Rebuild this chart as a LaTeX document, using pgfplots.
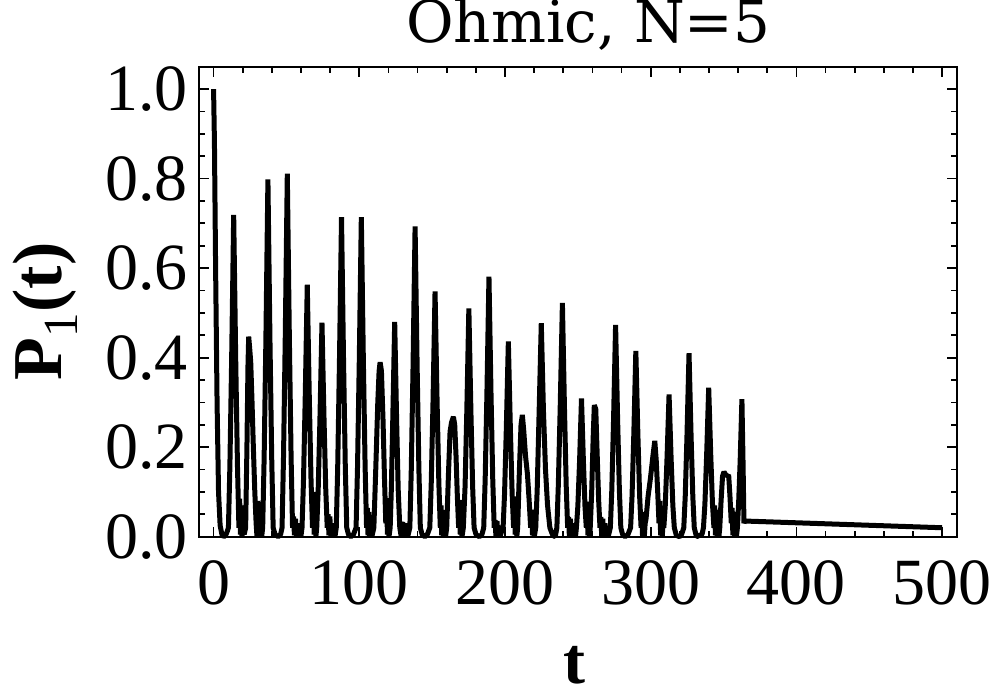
\documentclass[border=0pt]{standalone}
\usepackage{pgfplots}
\pgfplotsset{compat=1.18}
\usepackage{fontspec}
\setmainfont{Liberation Serif}
\newfontfamily\titlefont{DejaVu Serif}
\pgfplotstableread{
t P
0 1.0
0.6 0.88
1.4 0.6
2.4 0.3
3.4 0.1
4.5 0.025
5.8 0.004
7.0 0.0
8.4 0.004
9.4 0.012
10.2 0.02
11.2 0.158
12.4 0.395
13.8 0.719
15.2 0.395
16.4 0.158
17.4 0.02
17.9 0.085
18.4 0.005
18.9 0.07
19.5 0.0
20.2 0.04
21.0 0.005
22.0 0.02
22.9 0.2
23.6 0.38
24.1 0.447
24.8 0.42
25.5 0.39
26.4 0.3
27.3 0.2
28.3 0.1
29.2 0.03
29.8 0.0
30.3 0.08
30.8 0.005
31.3 0.075
31.9 0.0
32.5 0.03
33.0 0.0
33.7 0.02
34.7 0.176
35.9 0.439
37.3 0.798
38.7 0.439
39.9 0.176
40.9 0.02
42.2 0.005
44.3 0.0
46.0 0.005
47.0 0.02
48.0 0.178
49.2 0.446
50.6 0.811
52.0 0.446
53.2 0.178
54.2 0.02
54.9 0.045
55.5 0.003
56.2 0.04
56.9 0.0
57.7 0.03
58.5 0.0
59.3 0.02
59.9 0.0
60.7 0.02
61.7 0.124
62.9 0.31
64.3 0.563
65.7 0.31
66.9 0.124
67.9 0.02
68.5 0.1
69.0 0.005
69.6 0.08
70.2 0.0
70.8 0.02
71.8 0.105
73.0 0.263
74.4 0.478
75.8 0.263
77.0 0.105
78.0 0.02
78.6 0.05
79.2 0.003
79.8 0.045
80.5 0.0
81.2 0.03
81.9 0.0
82.6 0.015
83.3 0.0
84.2 0.02
85.2 0.157
86.4 0.393
87.8 0.714
89.2 0.393
90.4 0.157
91.4 0.02
92.6 0.005
94.2 0.0
96.0 0.005
97.8 0.02
98.8 0.157
100.0 0.393
101.4 0.714
102.8 0.393
104.0 0.157
105.0 0.02
105.5 0.064
106.0 0.003
106.6 0.055
107.2 0.0
107.9 0.03
108.6 0.0
109.3 0.01
110.0 0.02
111.3 0.15
112.7 0.3
113.6 0.37
114.3 0.39
115.2 0.37
116.3 0.26
117.3 0.13
118.2 0.03
118.8 0.086
119.3 0.005
119.8 0.07
120.4 0.0
121.2 0.02
122.0 0.106
123.0 0.264
124.3 0.48
125.6 0.264
126.7 0.106
127.8 0.02
128.8 0.0
129.8 0.033
130.4 0.0
131.1 0.03
131.8 0.0
132.5 0.025
133.2 0.0
134.7 0.02
135.7 0.152
136.9 0.381
138.3 0.693
139.7 0.381
140.9 0.152
141.9 0.02
143.1 0.005
145.0 0.0
146.7 0.005
148.4 0.02
149.4 0.121
150.6 0.301
152.0 0.548
153.4 0.301
154.6 0.121
155.6 0.02
156.1 0.07
156.6 0.003
157.2 0.06
157.8 0.0
158.5 0.04
159.2 0.0
160.0 0.02
161.2 0.14
162.3 0.235
163.3 0.255
164.6 0.268
165.5 0.25
166.4 0.18
167.3 0.09
168.2 0.02
168.8 0.082
169.3 0.005
169.9 0.07
170.5 0.0
171.4 0.02
172.6 0.112
173.8 0.281
175.2 0.51
176.6 0.281
177.8 0.112
178.8 0.02
180.1 0.005
182.4 0.0
184.2 0.005
185.4 0.02
186.4 0.128
187.6 0.32
189.0 0.581
190.4 0.32
191.6 0.128
192.6 0.02
193.2 0.037
193.8 0.0
194.5 0.035
195.2 0.0
195.9 0.025
196.6 0.0
197.5 0.01
198.7 0.02
199.7 0.096
200.9 0.24
202.3 0.436
203.7 0.24
204.9 0.096
205.9 0.02
206.5 0.09
207.0 0.005
207.5 0.07
208.1 0.0
208.7 0.02
209.9 0.15
211.0 0.25
211.9 0.272
212.8 0.24
214.1 0.18
215.4 0.14
216.6 0.08
217.6 0.02
218.3 0.06
218.9 0.003
219.5 0.05
220.1 0.0
221.1 0.02
222.1 0.105
223.3 0.262
224.9 0.477
226.4 0.28
227.8 0.15
229.2 0.07
230.8 0.02
232.8 0.003
234.5 0.0
235.6 0.02
236.6 0.115
237.9 0.29
239.4 0.522
240.8 0.29
242.0 0.115
243.0 0.02
243.6 0.044
244.2 0.0
244.9 0.04
245.6 0.0
246.3 0.03
247.0 0.0
247.8 0.015
248.4 0.0
249.0 0.02
250.0 0.068
251.2 0.17
252.5 0.309
253.8 0.17
254.9 0.068
255.8 0.02
256.4 0.078
256.9 0.003
257.4 0.06
258.0 0.0
258.5 0.02
259.5 0.1
260.5 0.22
261.3 0.294
262.3 0.285
263.3 0.18
264.3 0.08
265.2 0.02
265.8 0.044
266.4 0.0
267.1 0.04
267.8 0.0
268.5 0.03
269.2 0.0
270.0 0.015
270.8 0.0
272.3 0.02
273.3 0.104
274.5 0.26
275.9 0.473
277.3 0.26
278.5 0.104
279.5 0.02
280.7 0.005
282.4 0.0
284.4 0.005
286.2 0.02
287.2 0.091
288.4 0.228
289.8 0.415
291.2 0.228
292.4 0.091
293.4 0.02
293.9 0.055
294.4 0.0
295.0 0.05
295.6 0.0
296.2 0.03
296.8 0.04
298.2 0.09
299.8 0.13
301.5 0.18
302.8 0.214
303.8 0.17
304.8 0.1
305.7 0.03
306.3 0.08
306.8 0.003
307.3 0.065
307.9 0.0
308.5 0.03
309.0 0.02
310.0 0.07
311.2 0.175
312.6 0.318
314.0 0.175
315.2 0.07
316.2 0.02
317.6 0.003
319.8 0.0
321.2 0.005
322.7 0.02
323.7 0.09
324.9 0.226
326.3 0.41
327.7 0.226
328.9 0.09
329.9 0.02
331.4 0.0
333.5 0.003
335.2 0.005
336.2 0.02
337.2 0.073
338.4 0.183
339.8 0.333
341.2 0.183
342.4 0.073
343.4 0.02
343.9 0.07
344.4 0.003
345.0 0.06
345.6 0.0
346.2 0.04
346.8 0.0
347.4 0.02
348.3 0.08
349.3 0.135
350.3 0.145
351.5 0.138
352.7 0.136
353.5 0.138
354.4 0.09
355.3 0.03
355.9 0.064
356.4 0.003
357.0 0.055
357.6 0.0
358.2 0.04
358.8 0.0
359.5 0.02
360.4 0.08
361.4 0.17
362.6 0.307
363.4 0.16
364.0 0.03
364.5 0.035
500 0.02
}\datatable
\begin{document}
\begin{tikzpicture}
\useasboundingbox (0,0) rectangle (497.5pt,350pt);
\begin{axis}[
  at={(99.5pt,81.65pt)}, anchor=south west,
  scale only axis, width=378.85pt, height=235pt,
  xmin=-10, xmax=510, ymin=0, ymax=1.05,
  xtick={0,100,200,300,400,500},
  ytick={0,0.2,0.4,0.6,0.8,1.0},
  minor x tick num=4, minor y tick num=3,
  tick align=inside, tick pos=both,
  xticklabel pos=lower, yticklabel pos=left,
  major tick length=5pt, minor tick length=3pt,
  tick style={black, line width=0.9pt},
  axis line style={line width=1pt},
  /pgf/number format/assume math mode=true,
  every tick label/.append style={inner sep=0pt, font=\fontsize{33}{36}\selectfont},
  xticklabel shift=12pt, yticklabel shift=5.5pt,
  yticklabel style={/pgf/number format/.cd, fixed, fixed zerofill, precision=1},
  xticklabel style={/pgf/number format/.cd, fixed, precision=0},
  title={Ohmic, N=5},
  title style={at={(0.514,1)}, anchor=base, yshift=5.85pt, inner sep=0pt, font=\titlefont\fontsize{29}{32}\selectfont},
  xlabel={t},
  xlabel style={at={(0.496,0)}, anchor=base, yshift=-73.5pt, inner sep=0pt, font=\fontsize{33}{36}\selectfont\bfseries},
  ylabel={P\textsubscript{\mdseries 1}(t)},
  ylabel style={at={(0,0.479)}, anchor=base, yshift=68.5pt, inner sep=0pt, font=\fontsize{35}{38}\selectfont\bfseries},
  clip=false,
]
\addplot[black, line width=2.5pt, line join=bevel] table[x=t, y=P] {\datatable};
\end{axis}
\end{tikzpicture}
\end{document}
